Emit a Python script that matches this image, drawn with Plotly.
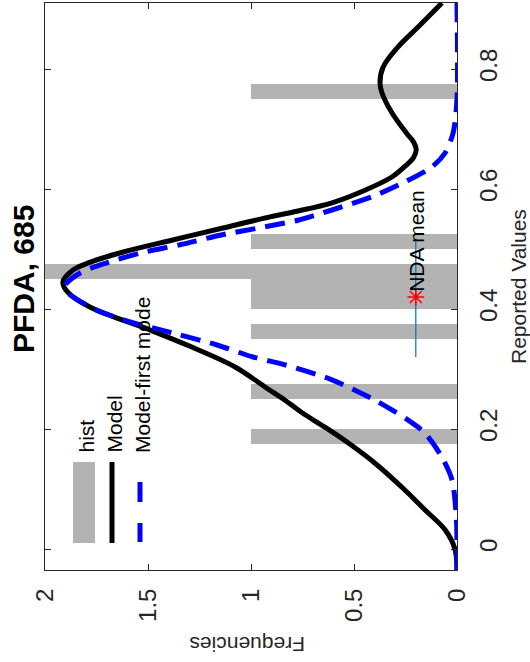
import plotly.graph_objects as go

# ---------------- data ----------------
hist_centers = [0.1875, 0.2625, 0.3625, 0.4125, 0.4375, 0.4625, 0.5125, 0.7625]
hist_counts = [1, 1, 1, 1, 1, 2, 1, 1]
bin_width = 0.025

model_v = [-0.035, 0.0, 0.032, 0.065, 0.098, 0.143, 0.177, 0.203, 0.227, 0.248, 0.27,
           0.303, 0.337, 0.365, 0.403, 0.428, 0.445, 0.465, 0.478, 0.495, 0.515, 0.535,
           0.551, 0.562, 0.577, 0.598, 0.62, 0.638, 0.652, 0.665, 0.678, 0.693, 0.727,
           0.76, 0.777, 0.803, 0.837, 0.87, 0.91]
model_f = [0.0, 0.01, 0.058, 0.155, 0.252, 0.398, 0.529, 0.641, 0.752, 0.835, 0.932,
           1.075, 1.29, 1.49, 1.78, 1.89, 1.913, 1.864, 1.78, 1.62, 1.38, 1.136,
           0.94, 0.79, 0.607, 0.447, 0.316, 0.252, 0.212, 0.198, 0.21, 0.245, 0.316,
           0.364, 0.374, 0.359, 0.286, 0.189, 0.073]

first_v = [-0.035, 0.0, 0.05, 0.115, 0.153, 0.193, 0.215, 0.248, 0.282, 0.307, 0.32, 0.34,
           0.36, 0.382, 0.403, 0.428, 0.44, 0.46, 0.477, 0.493, 0.507, 0.523, 0.537,
           0.548, 0.565, 0.587, 0.612, 0.637, 0.66, 0.693, 0.75, 0.91]
first_f = [0.0, 0.0, 0.003, 0.024, 0.073, 0.155, 0.238, 0.398, 0.607, 0.835, 0.99, 1.165,
           1.38, 1.62, 1.78, 1.89, 1.90, 1.83, 1.70, 1.54, 1.345, 1.15, 0.932,
           0.772, 0.607, 0.413, 0.252, 0.121, 0.058, 0.019, 0.0, 0.0]

nda_mean = 0.42
nda_low = 0.32
nda_high = 0.515
nda_level = 0.2

freq_ticks = [0, 0.5, 1, 1.5, 2]
freq_labels = ["0", "0.5", "1", "1.5", "2"]
val_ticks = [0, 0.2, 0.4, 0.6, 0.8]
val_labels = ["0", "0.2", "0.4", "0.6", "0.8"]

# ---------------- layout helpers ----------------
W, H = 530, 662
L, R, T, B = 45, 457, 3, 570  # plot box in pixels


def px(x):
    return (x - L) / (R - L)


def py(y):
    return (B - y) / (B - T)


FONT = "Liberation Sans, Arial, Helvetica, sans-serif"
AXC = "#262626"

fig = go.Figure()

fig.add_trace(go.Bar(
    y=hist_centers, x=hist_counts, orientation="h", width=bin_width,
    marker=dict(color="#b3b3b3", line=dict(width=0)), showlegend=False,
))
fig.add_trace(go.Scatter(
    x=model_f, y=model_v, mode="lines", line=dict(color="black", width=5, shape="spline", smoothing=1.0),
    showlegend=False,
))
fig.add_trace(go.Scatter(
    x=first_f, y=first_v, mode="lines",
    line=dict(color="#0000ff", width=5, dash="20px,10px", shape="spline", smoothing=0.8),
    showlegend=False,
))
fig.add_trace(go.Scatter(
    x=[nda_level, nda_level], y=[nda_low, nda_high], mode="lines",
    line=dict(color="#0072BD", width=1.2), showlegend=False,
))
fig.add_trace(go.Scatter(
    x=[nda_level], y=[nda_mean], mode="markers",
    marker=dict(symbol="asterisk-open", size=14, color="red", line=dict(color="red", width=1.5)),
    showlegend=False,
))

annotations = [
    dict(text="NDA mean", x=nda_level, y=nda_mean, xref="x", yref="y", showarrow=False,
         textangle=-90, xanchor="center", yanchor="bottom", yshift=3,
         font=dict(size=21, color="black", family=FONT)),
    dict(text="<b>PFDA, 685</b>", x=px(23), y=py(279), xref="paper", yref="paper", showarrow=False,
         textangle=-90, xanchor="center", yanchor="middle", font=dict(size=30, color="black", family=FONT)),
    dict(text="Reported Values", x=px(518), y=py(287), xref="paper", yref="paper", showarrow=False,
         textangle=-90, xanchor="center", yanchor="middle", font=dict(size=21, color=AXC, family=FONT)),
    dict(text="Frequencies", x=px(247), y=py(645), xref="paper", yref="paper", showarrow=False,
         textangle=180, xanchor="center", yanchor="middle", font=dict(size=21, color=AXC, family=FONT)),
    dict(text="hist", x=px(86), y=py(455), xref="paper", yref="paper", showarrow=False,
         textangle=-90, xanchor="center", yanchor="bottom", font=dict(size=21, color="black", family=FONT)),
    dict(text="Model", x=px(114), y=py(455), xref="paper", yref="paper", showarrow=False,
         textangle=-90, xanchor="center", yanchor="bottom", font=dict(size=21, color="black", family=FONT)),
    dict(text="Model-first mode", x=px(142), y=py(455), xref="paper", yref="paper", showarrow=False,
         textangle=-90, xanchor="center", yanchor="bottom", font=dict(size=21, color="black", family=FONT)),
]

shapes = [
    dict(type="rect", xref="paper", yref="paper", x0=px(73), x1=px(95), y0=py(543), y1=py(462),
         fillcolor="#b3b3b3", line=dict(width=0)),
    dict(type="line", xref="paper", yref="paper", x0=px(112), x1=px(112), y0=py(543), y1=py(462),
         line=dict(color="black", width=5)),
    dict(type="line", xref="paper", yref="paper", x0=px(140), x1=px(140), y0=py(502), y1=py(482),
         line=dict(color="#0000ff", width=5)),
    dict(type="line", xref="paper", yref="paper", x0=px(140), x1=px(140), y0=py(542), y1=py(523),
         line=dict(color="#0000ff", width=5)),
]

fig.update_layout(
    width=W, height=H,
    margin=dict(l=L, r=W - R, t=T, b=H - B, pad=0, autoexpand=False),
    paper_bgcolor="white", plot_bgcolor="white",
    font=dict(family=FONT, color=AXC),
    annotations=annotations, shapes=shapes,
    bargap=0, hovermode=False,
)
fig.update_xaxes(
    range=[2, 0], tickvals=freq_ticks, ticktext=freq_labels, tickangle=-90,
    ticks="inside", ticklen=6, tickcolor=AXC, tickwidth=1,
    showline=True, linecolor=AXC, linewidth=1, mirror="ticks",
    showgrid=False, zeroline=False, tickfont=dict(size=24, color=AXC, family=FONT),
    ticklabelstandoff=8, automargin=False,
)
fig.update_yaxes(
    range=[-0.035, 0.91], tickvals=val_ticks, ticktext=val_labels, tickangle=-90, side="right",
    ticks="inside", ticklen=6, tickcolor=AXC, tickwidth=1,
    showline=True, linecolor=AXC, linewidth=1, mirror="ticks",
    showgrid=False, zeroline=False, tickfont=dict(size=24, color=AXC, family=FONT),
    ticklabelstandoff=10, automargin=False,
)

fig.write_html(
    "out.html",
    config={"displayModeBar": False},
    post_script="document.body.style.margin='0';document.body.style.padding='0';",
)
